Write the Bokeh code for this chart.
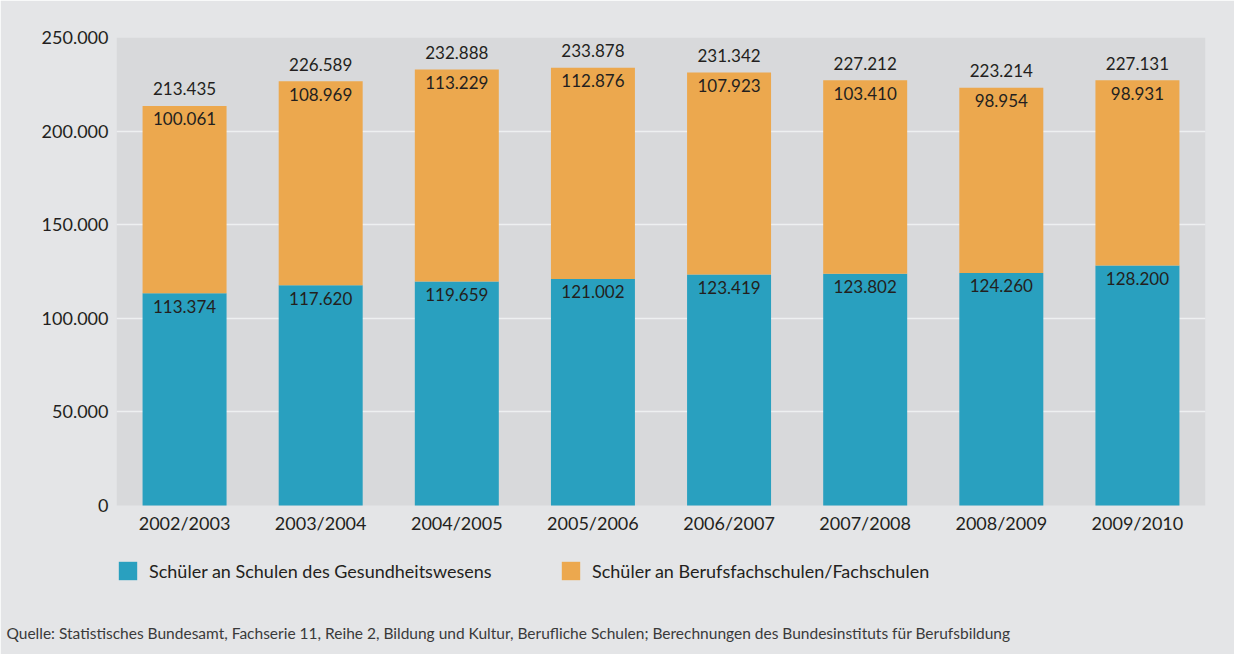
from bokeh.plotting import figure
from bokeh.models import (ColumnDataSource, FactorRange, FixedTicker, Legend, LegendItem, Title,
                          LabelSet, BoxAnnotation, Range1d)
from bokeh.embed import file_html
from bokeh.resources import INLINE
from bokeh.core.properties import value

years = ["2002/2003", "2003/2004", "2004/2005", "2005/2006", "2006/2007", "2007/2008", "2008/2009", "2009/2010"]
gesundheit = [113374, 117620, 119659, 121002, 123419, 123802, 124260, 128200]
berufsfach = [100061, 108969, 113229, 112876, 107923, 103410, 98954, 98931]
totals = [213435, 226589, 232888, 233878, 231342, 227212, 223214, 227131]
y_ticks = [0, 50000, 100000, 150000, 200000, 250000]
y_tick_labels = ["0", "50.000", "100.000", "150.000", "200.000", "250.000"]
series_names = ["Schüler an Schulen des Gesundheitswesens", "Schüler an Berufsfachschulen/Fachschulen"]
source_note = ("Quelle: Statistisches Bundesamt, Fachserie 11, Reihe 2, Bildung und Kultur, Berufliche Schulen; "
               "Berechnungen des Bundesinstituts für Berufsbildung")

TEAL = "#29a0bf"
ORANGE = "#eca84e"
TXT = "#231f20"
FONT = "Lato"
OUTER = "#e4e5e7"
INNER = "#d8d9db"

Y_MAX = 250000
PX_PER_UNIT = 468 / Y_MAX          # 468 px for the value axis
EXTRA_PX = 103                     # frame extends below zero for the legend area

def fmt(v):
    return f"{v:,}".replace(",", ".")

src = ColumnDataSource(dict(
    years=years,
    g=gesundheit,
    b=berufsfach,
    top_b=[g + b for g, b in zip(gesundheit, berufsfach)],
    total=totals,
    g_lab=[fmt(v) for v in gesundheit],
    b_lab=[fmt(v) for v in berufsfach],
    t_lab=[fmt(v) for v in totals],
))

p = figure(x_range=FactorRange(*years), y_range=Range1d(-EXTRA_PX / PX_PER_UNIT, Y_MAX),
           width=1234, height=654, output_backend="svg", toolbar_location=None,
           min_border_left=116, min_border_right=29, min_border_top=37, min_border_bottom=46)
p.background_fill_color = OUTER
p.border_fill_color = OUTER
p.outline_line_color = OUTER
p.outline_line_width = 2

p.add_layout(BoxAnnotation(bottom=0, top=Y_MAX, fill_color=INNER, fill_alpha=1,
                           line_color=None, level="image"))

r = p.vbar_stack(["g", "b"], x="years", width=0.617, color=[TEAL, ORANGE], line_color=None, source=src)

p.xgrid.grid_line_color = None
p.ygrid.grid_line_color = "#eef0f1"
p.ygrid.grid_line_width = 1.5
p.ygrid.ticker = FixedTicker(ticks=y_ticks[1:-1])

p.yaxis.ticker = FixedTicker(ticks=y_ticks)
p.yaxis.major_label_overrides = {t: l for t, l in zip(y_ticks, y_tick_labels)}
p.xaxis.fixed_location = 0
for ax in (p.xaxis[0], p.yaxis[0]):
    ax.axis_line_color = None
    ax.major_tick_line_color = None
    ax.minor_tick_line_color = None
    ax.major_label_text_font = FONT
    ax.major_label_text_font_size = "18px"
    ax.major_label_text_color = TXT
p.yaxis.major_label_standoff = 2
p.xaxis.major_label_standoff = 0
p.xaxis.group_text_font_size = "18px"

common = dict(text_font=value(FONT), text_font_size="17px", text_color=TXT,
              text_align="center", text_baseline="middle", source=src)
p.add_layout(LabelSet(x="years", y="g", text="g_lab", y_offset=-13, **common))
p.add_layout(LabelSet(x="years", y="top_b", text="b_lab", y_offset=-13, **common))
p.add_layout(LabelSet(x="years", y="total", text="t_lab", y_offset=17, **common))

for i, loc in enumerate([(0, 26), (443, 26)]):
    lg = Legend(items=[LegendItem(label=series_names[i], renderers=[r[i]])], location=loc,
                orientation="horizontal", glyph_width=23, glyph_height=23, label_standoff=10,
                padding=0, margin=0, border_line_alpha=0, background_fill_alpha=0,
                label_text_font=FONT, label_text_font_size="18px", label_text_color=TXT)
    p.add_layout(lg, "center")

p.add_layout(Title(text=source_note, align="left", offset=-110, standoff=26,
                   text_font=FONT, text_font_size="15.5px", text_font_style="normal",
                   text_color="#3a3a3a"), "below")

open("out.html", "w").write(file_html(p, INLINE))
